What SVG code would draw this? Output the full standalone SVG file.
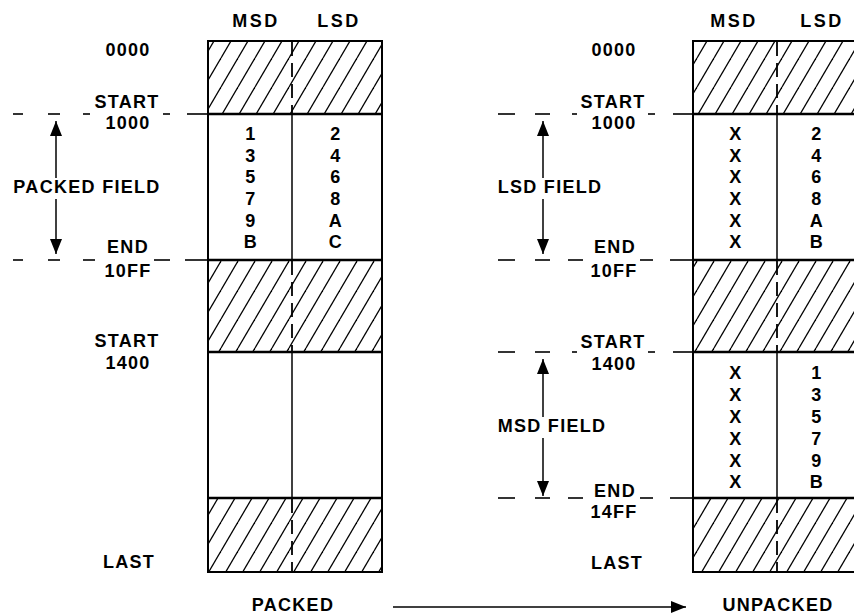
<svg xmlns="http://www.w3.org/2000/svg" width="854" height="614" viewBox="0 0 854 614">
<style>
  text { font-family: "Liberation Sans", Arial, sans-serif; font-weight: bold; font-size: 18px; letter-spacing: 1.3px; fill: #000; text-anchor: middle; }
  .hdr { letter-spacing: 2.5px; }
  .box { fill: none; stroke: #000; stroke-width: 2; }
  .sep { stroke: #000; stroke-width: 2.5; }
  .div { stroke: #000; stroke-width: 1.5; }
  .divd { stroke: #000; stroke-width: 1.8; stroke-dasharray: 14 7; }
  .dash { stroke: #000; stroke-width: 1.6; }
  .arr { stroke: #000; stroke-width: 1.5; fill: none; marker-end: url(#ah); }
  .hatch { fill: url(#hp); stroke: none; }
</style>
<defs>
  <pattern id="hp" patternUnits="userSpaceOnUse" width="17" height="29">
    <line x1="0" y1="29" x2="17" y2="0" stroke="#000" stroke-width="1.3"/>
    <line x1="-17" y1="29" x2="0" y2="0" stroke="#000" stroke-width="1.3"/>
    <line x1="17" y1="29" x2="34" y2="0" stroke="#000" stroke-width="1.3"/>
  </pattern>
  <marker id="ah" markerUnits="userSpaceOnUse" markerWidth="15" markerHeight="12" refX="15" refY="6" orient="auto">
    <path d="M0,0 L15,6 L0,12 z" fill="#000"/>
  </marker>
</defs>
<rect width="854" height="614" fill="#fff"/>

<g id="packed-memory">
  <rect class="hatch" x="208" y="41" width="174" height="73"/>
  <rect class="hatch" x="208" y="260" width="174" height="92"/>
  <rect class="hatch" x="208" y="498" width="174" height="74"/>
  <rect class="box" x="208" y="41" width="174" height="531"/>
  <line class="sep" x1="208" y1="114" x2="382" y2="114"/>
  <line class="sep" x1="208" y1="260" x2="382" y2="260"/>
  <line class="sep" x1="208" y1="352" x2="382" y2="352"/>
  <line class="sep" x1="208" y1="498" x2="382" y2="498"/>
  <line class="divd" x1="292" y1="42" x2="292" y2="113"/>
  <line class="div" x1="292" y1="114" x2="292" y2="260"/>
  <line class="divd" x1="292" y1="261" x2="292" y2="351"/>
  <line class="div" x1="292" y1="352" x2="292" y2="498"/>
  <line class="divd" x1="292" y1="499" x2="292" y2="571"/>
  <text class="hdr" x="256" y="27">MSD</text>
  <text class="hdr" x="339" y="27">LSD</text>
  <text x="251" y="140">1</text><text x="336" y="140">2</text>
  <text x="251" y="162">3</text><text x="336" y="162">4</text>
  <text x="251" y="183">5</text><text x="336" y="183">6</text>
  <text x="251" y="205">7</text><text x="336" y="205">8</text>
  <text x="251" y="227">9</text><text x="336" y="227">A</text>
  <text x="251" y="248">B</text><text x="336" y="248">C</text>
</g>

<g id="packed-labels">
  <text x="128" y="56">0000</text>
  <text x="127" y="108">START</text>
  <text x="128" y="129">1000</text>
  <text x="87" y="193">PACKED FIELD</text>
  <text x="128" y="253">END</text>
  <text x="128" y="277">10FF</text>
  <text x="127" y="347">START</text>
  <text x="128" y="369">1400</text>
  <text x="129" y="568">LAST</text>
  <text x="293" y="611">PACKED</text>
</g>

<g id="unpacked-memory">
  <rect class="hatch" x="693" y="41" width="174" height="73"/>
  <rect class="hatch" x="693" y="260" width="174" height="92"/>
  <rect class="hatch" x="693" y="498" width="174" height="74"/>
  <rect class="box" x="693" y="41" width="174" height="531"/>
  <line class="sep" x1="693" y1="114" x2="867" y2="114"/>
  <line class="sep" x1="693" y1="260" x2="867" y2="260"/>
  <line class="sep" x1="693" y1="352" x2="867" y2="352"/>
  <line class="sep" x1="693" y1="498" x2="867" y2="498"/>
  <line class="divd" x1="777" y1="42" x2="777" y2="113"/>
  <line class="div" x1="777" y1="114" x2="777" y2="260"/>
  <line class="divd" x1="777" y1="261" x2="777" y2="351"/>
  <line class="div" x1="777" y1="352" x2="777" y2="498"/>
  <line class="divd" x1="777" y1="499" x2="777" y2="571"/>
  <text class="hdr" x="734" y="27">MSD</text>
  <text class="hdr" x="822" y="27">LSD</text>
  <text x="736" y="140">X</text><text x="817" y="140">2</text>
  <text x="736" y="162">X</text><text x="817" y="162">4</text>
  <text x="736" y="183">X</text><text x="817" y="183">6</text>
  <text x="736" y="205">X</text><text x="817" y="205">8</text>
  <text x="736" y="227">X</text><text x="817" y="227">A</text>
  <text x="736" y="248">X</text><text x="817" y="248">B</text>
  <text x="736" y="379">X</text><text x="817" y="379">1</text>
  <text x="736" y="401">X</text><text x="817" y="401">3</text>
  <text x="736" y="423">X</text><text x="817" y="423">5</text>
  <text x="736" y="445">X</text><text x="817" y="445">7</text>
  <text x="736" y="467">X</text><text x="817" y="467">9</text>
  <text x="736" y="488">X</text><text x="817" y="488">B</text>
</g>

<g id="unpacked-labels">
  <text x="614" y="56">0000</text>
  <text x="613" y="108">START</text>
  <text x="614" y="129">1000</text>
  <text x="550" y="193">LSD FIELD</text>
  <text x="615" y="253">END</text>
  <text x="614" y="277">10FF</text>
  <text x="613" y="348">START</text>
  <text x="614" y="370">1400</text>
  <text x="552" y="432">MSD FIELD</text>
  <text x="615" y="497">END</text>
  <text x="614" y="518">14FF</text>
  <text x="617" y="569">LAST</text>
  <text x="778" y="611">UNPACKED</text>
</g>

<g id="connectors">
  <line class="dash" x1="13" y1="114" x2="23" y2="114"/>
  <line class="dash" x1="48" y1="114" x2="60" y2="114"/>
  <line class="dash" x1="83" y1="114" x2="90" y2="114"/>
  <line class="dash" x1="163" y1="114" x2="170" y2="114"/>
  <line class="dash" x1="187" y1="114" x2="208" y2="114"/>
  <line class="dash" x1="13" y1="260" x2="23" y2="260"/>
  <line class="dash" x1="48" y1="260" x2="60" y2="260"/>
  <line class="dash" x1="83" y1="260" x2="95" y2="260"/>
  <line class="dash" x1="154" y1="260" x2="170" y2="260"/>
  <line class="dash" x1="185" y1="260" x2="208" y2="260"/>
  <line class="dash" x1="498" y1="114" x2="515" y2="114"/>
  <line class="dash" x1="535" y1="114" x2="550" y2="114"/>
  <line class="dash" x1="572" y1="114" x2="577" y2="114"/>
  <line class="dash" x1="648" y1="114" x2="655" y2="114"/>
  <line class="dash" x1="673" y1="114" x2="693" y2="114"/>
  <line class="dash" x1="498" y1="260" x2="515" y2="260"/>
  <line class="dash" x1="535" y1="260" x2="550" y2="260"/>
  <line class="dash" x1="568" y1="260" x2="583" y2="260"/>
  <line class="dash" x1="640" y1="260" x2="653" y2="260"/>
  <line class="dash" x1="670" y1="260" x2="693" y2="260"/>
  <line class="dash" x1="498" y1="352" x2="515" y2="352"/>
  <line class="dash" x1="535" y1="352" x2="550" y2="352"/>
  <line class="dash" x1="572" y1="352" x2="577" y2="352"/>
  <line class="dash" x1="648" y1="352" x2="655" y2="352"/>
  <line class="dash" x1="673" y1="352" x2="693" y2="352"/>
  <line class="dash" x1="498" y1="498" x2="515" y2="498"/>
  <line class="dash" x1="535" y1="498" x2="550" y2="498"/>
  <line class="dash" x1="568" y1="498" x2="583" y2="498"/>
  <line class="dash" x1="640" y1="498" x2="653" y2="498"/>
  <line class="dash" x1="670" y1="498" x2="693" y2="498"/>
  <line class="arr" x1="56" y1="178" x2="56" y2="121"/>
  <line class="arr" x1="56" y1="199" x2="56" y2="254"/>
  <line class="arr" x1="543" y1="178" x2="543" y2="121"/>
  <line class="arr" x1="543" y1="199" x2="543" y2="254"/>
  <line class="arr" x1="543" y1="417" x2="543" y2="359"/>
  <line class="arr" x1="543" y1="438" x2="543" y2="496"/>
  <line class="arr" x1="393" y1="607" x2="686" y2="607"/>
</g>
</svg>
